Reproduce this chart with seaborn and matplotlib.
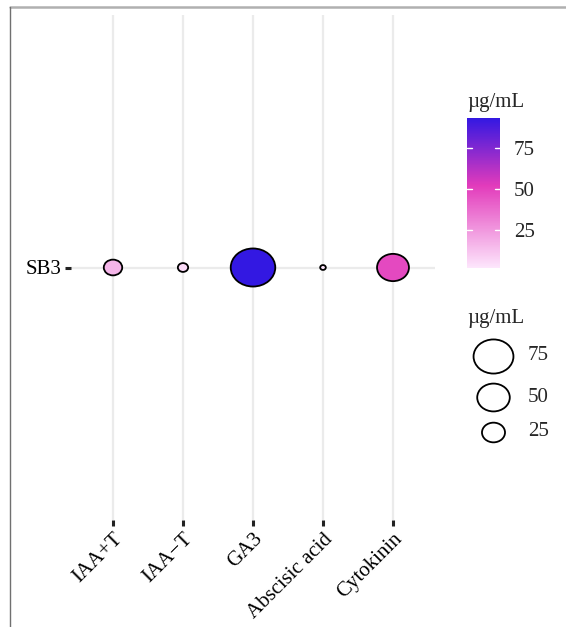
import matplotlib
matplotlib.use("Agg")
import matplotlib.pyplot as plt
import seaborn as sns
import numpy as np
import pandas as pd
from matplotlib.colors import LinearSegmentedColormap, Normalize
from matplotlib.path import Path
from matplotlib.lines import Line2D
from matplotlib.cm import ScalarMappable

# values (µg/mL)
hormones = ['IAA+T', 'IAA\u2212T', 'GA3', 'Abscisic acid', 'Cytokinin']
samples = ['SB3'] * 5
conc = [16, 5, 93.5, 1.5, 48]
legend_sizes = [75, 50, 25]
cbar_ticks = [25, 50, 75]

df = pd.DataFrame({'hormone': hormones, 'sample': samples, 'conc': conc})

sns.set_style('white')
plt.rcParams['font.family'] = ['Liberation Serif', 'DejaVu Serif']
FS = 15

cmap = LinearSegmentedColormap.from_list(
    'pk', [(0.0, '#FDE6FC'), (0.55, '#E23BBB'), (1.0, '#3318E2')])
vmin, vmax = min(conc), max(conc)
norm = Normalize(vmin, vmax)

# slightly stretched circle, like the reference
circ = Path.unit_circle()
ell = Path(circ.vertices * np.array([1.17, 1.0]), circ.codes)

k = 11.0  # marker area per µg/mL

fig = plt.figure(figsize=(5.66, 6.27), dpi=100)
ax = fig.add_axes([71 / 566, 107 / 627, 364 / 566, 505 / 627])

ax.grid(True, color='#EBEBEB', lw=1.6)
ax.set_axisbelow(True)
sns.scatterplot(data=df, x='hormone', y='sample', hue='conc', size='conc',
                palette=cmap, hue_norm=norm, sizes=(0, k * 100),
                size_norm=(0, 100), marker=ell, edgecolor='black',
                linewidth=1.3, legend=False, ax=ax, zorder=3)

ax.set_xlim(-0.6, 4.6)
ax.set_ylim(-1, 1)
ax.set_xlabel('')
ax.set_ylabel('')
for s in ax.spines.values():
    s.set_visible(False)
ax.tick_params(axis='both', bottom=True, left=True, length=4, width=2.2,
               color='#222222', labelsize=FS, labelcolor='black', pad=3)
plt.setp(ax.get_xticklabels(), rotation=45, ha='right',
         rotation_mode='anchor')

# colour bar
cax = fig.add_axes([467 / 566, (627 - 268) / 627, 33 / 566, 150 / 627])
cb = fig.colorbar(ScalarMappable(norm=norm, cmap=cmap), cax=cax,
                  ticks=cbar_ticks)
cb.outline.set_visible(False)
cax.tick_params(length=0, labelsize=FS, pad=10)
for t in cbar_ticks:
    cax.plot([0, 0.16], [t, t], color='white', lw=1,
             transform=cax.get_yaxis_transform())
    cax.plot([0.84, 1], [t, t], color='white', lw=1,
             transform=cax.get_yaxis_transform())
fig.text(467 / 566, 1 - 102 / 627, 'µg/mL', fontsize=FS, va='center', ha='left')

# size legend
fig.text(467 / 566, 1 - 318 / 627, 'µg/mL', fontsize=FS, va='center', ha='left')
lax = fig.add_axes([0, 0, 1, 1], facecolor='none')
lax.set_xlim(0, 566)
lax.set_ylim(627, 0)
lax.axis('off')
for v, yy in zip(legend_sizes, [356, 397, 432]):
    lax.scatter([493], [yy], s=k * v, marker=ell, facecolor='white',
                edgecolor='black', linewidth=1.3)
    lax.text(528, yy, str(v), fontsize=FS, va='center', ha='left')

# outer frame of the screenshot
fig.add_artist(Line2D([10 / 566, 1], [1 - 7 / 627, 1 - 7 / 627],
                      color='#B0B0B0', lw=1.8))
fig.add_artist(Line2D([10 / 566, 10 / 566], [0, 1 - 7 / 627],
                      color='#707070', lw=1.0))

fig.savefig('out.png', dpi=100)
